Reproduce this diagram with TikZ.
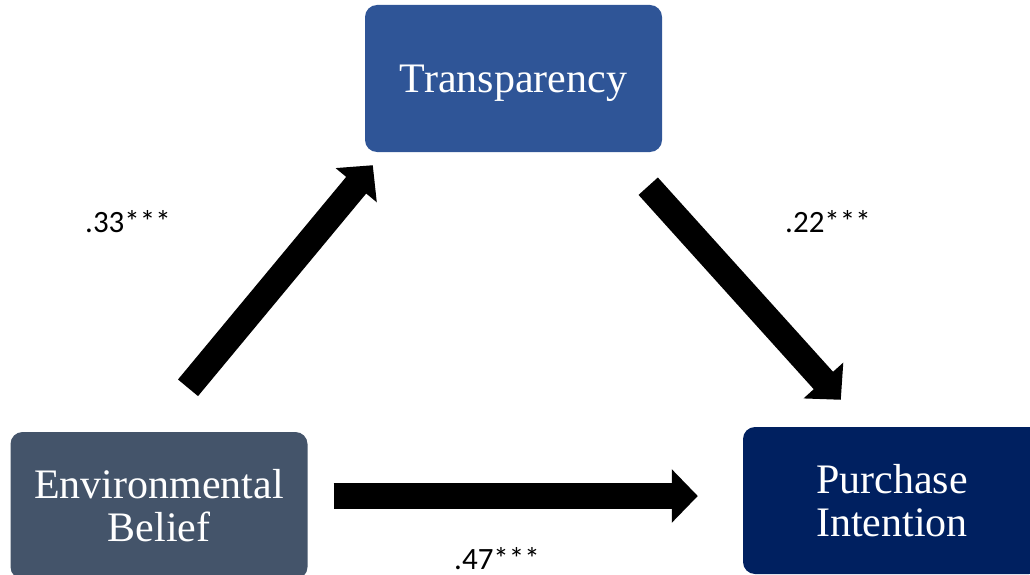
\documentclass[tikz,border=0pt]{standalone}
\usepackage{fontspec}
\setmainfont{Liberation Serif}
\newfontfamily\coeffont{Carlito}
\usepackage{tikz}
\usetikzlibrary{
	arrows.meta,
	positioning,
	calc
}
\definecolor{transblue}{HTML}{2F5597}
\definecolor{beliefgray}{HTML}{44546A}
\definecolor{intentnavy}{HTML}{002060}

\begin{document}
\begin{tikzpicture}[
				x=1pt, y=-1pt,
				box/.style={
					rectangle, rounded corners=12pt,
					minimum width=297pt, minimum height=147pt,
					align=center, text=white, inner sep=0pt, text depth=0pt,
					font=\fontsize{42}{43}\selectfont
				},
				bluebox/.style={
					box, fill=transblue
				},
				graybox/.style={
					box, fill=beliefgray
				},
				navybox/.style={
					box, fill=intentnavy
				},
				bigarrow/.style={
					-{Triangle[length=26pt, width=52pt]}, line width=26pt, black
				},
				coef/.style={
					font=\coeffont\fontsize{31}{31}\selectfont, inner sep=0pt
				},
				]
				
				\useasboundingbox (0,0) rectangle (1030,575);
				\clip (0,0) rectangle (1030,575);
				
				%nodes
				\node[bluebox] (trans) at (513.5,78.5) {Transparency};
				\node[graybox] (belief) at (159,505.5) {Environmental\\Belief};
				\node[navybox, minimum width=298pt] (intent) at (892,500.5) {Purchase\\Intention};
				
				%arrows
				\draw[bigarrow] ($(belief.north)+(29,-44)$) -- ($(trans.south west)+(8,13)$);
				\draw[bigarrow] ($(trans.south east)+(-14,34)$) -- ($(intent.north west)+(98,-27)$);
				\draw[bigarrow] ($(belief.east)+(26,-9.5)$) -- ($(intent.west)+(-45,-4.5)$);
				
				%coefficients
				\node[coef] (ab) at (128,222) {.33***};
				\node[coef] (bc) at (828,222) {.22***};
				\node[coef] (ac) at (497,559) {.47***};
\end{tikzpicture}
\end{document}
